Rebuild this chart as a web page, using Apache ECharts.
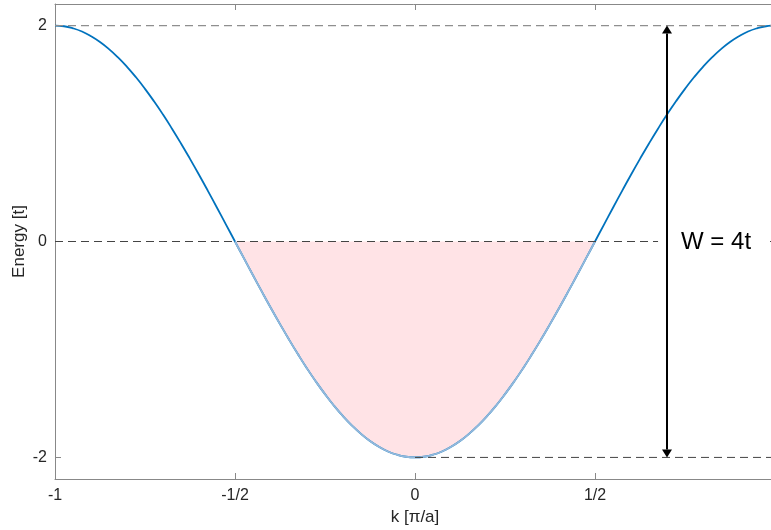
<!DOCTYPE html>
<html>
<head>
<meta charset="utf-8">
<title>Tight-binding band</title>
<script src="https://cdn.jsdelivr.net/npm/echarts@6/dist/echarts.min.js"></script>
<style>
  html, body { margin: 0; padding: 0; background: #fff; }
  #chart { width: 771px; height: 530px; }
</style>
</head>
<body>
<div id="chart"></div>
<script>
// Wave vector k in units of pi/a
const kValues = [
  -1.000, -0.975, -0.950, -0.925, -0.900, -0.875, -0.850, -0.825, -0.800, -0.775,
  -0.750, -0.725, -0.700, -0.675, -0.650, -0.625, -0.600, -0.575, -0.550, -0.525,
  -0.500, -0.475, -0.450, -0.425, -0.400, -0.375, -0.350, -0.325, -0.300, -0.275,
  -0.250, -0.225, -0.200, -0.175, -0.150, -0.125, -0.100, -0.075, -0.050, -0.025,
   0.000,  0.025,  0.050,  0.075,  0.100,  0.125,  0.150,  0.175,  0.200,  0.225,
   0.250,  0.275,  0.300,  0.325,  0.350,  0.375,  0.400,  0.425,  0.450,  0.475,
   0.500,  0.525,  0.550,  0.575,  0.600,  0.625,  0.650,  0.675,  0.700,  0.725,
   0.750,  0.775,  0.800,  0.825,  0.850,  0.875,  0.900,  0.925,  0.950,  0.975, 1.000
];
// Band energy in units of t
const energyValues = [
   2.000,  1.994,  1.975,  1.945,  1.902,  1.848,  1.782,  1.705,  1.618,  1.521,
   1.414,  1.299,  1.176,  1.045,  0.908,  0.765,  0.618,  0.467,  0.313,  0.157,
   0.000, -0.157, -0.313, -0.467, -0.618, -0.765, -0.908, -1.045, -1.176, -1.299,
  -1.414, -1.521, -1.618, -1.705, -1.782, -1.848, -1.902, -1.945, -1.975, -1.994,
  -2.000, -1.994, -1.975, -1.945, -1.902, -1.848, -1.782, -1.705, -1.618, -1.521,
  -1.414, -1.299, -1.176, -1.045, -0.908, -0.765, -0.618, -0.467, -0.313, -0.157,
   0.000,  0.157,  0.313,  0.467,  0.618,  0.765,  0.908,  1.045,  1.176,  1.299,
   1.414,  1.521,  1.618,  1.705,  1.782,  1.848,  1.902,  1.945,  1.975,  1.994, 2.000
];
// Occupied states (below the Fermi level)
const fermiRange = [-0.5, 0.5];

// Reference levels: [kStart, kEnd, energy]
const bandTopLine = [-1, 1, 2];
const fermiLine = [-1, 1, 0];
const bandBottomLine = [0, 1, -2];

// Bandwidth marker
const widthArrowK = 0.7;
const bandwidth = [-2, 2];
const widthLabel = 'W = 4t';
const widthLabelK = 0.739;

const xTickLabels = { '-1': '-1', '-0.5': '-1/2', '0': '0', '0.5': '1/2' };
const yTicks = [-2, 0, 2];

const curve = kValues.map((k, i) => [k, energyValues[i]]);
const filled = curve.filter(p => p[0] >= fermiRange[0] - 1e-9 && p[0] <= fermiRange[1] + 1e-9);
const levelSeries = (seg, color, width) => ({
  type: 'line',
  data: [[seg[0], seg[2]], [seg[1], seg[2]]],
  symbol: 'none',
  silent: true,
  lineStyle: { color: color, width: width, type: [8, 5] },
  z: 3
});

const font = 'Liberation Sans, Arial, Helvetica, sans-serif';
const axisGray = '#888';
const textDark = '#262626';

const chart = echarts.init(document.getElementById('chart'), null, { renderer: 'canvas' });
chart.setOption({
  animation: false,
  backgroundColor: '#fff',
  grid: { left: 55, width: 720, top: 4, height: 475, containLabel: false, outerBoundsMode: 'none' },
  xAxis: [{
    type: 'value', min: -1, max: 1, interval: 0.5,
    name: 'k [π/a]', nameLocation: 'middle', nameGap: 30, nameMoveOverlap: false,
    nameTextStyle: { fontFamily: font, fontSize: 17, color: textDark },
    axisLine: { show: true, onZero: false, lineStyle: { color: axisGray, width: 1 } },
    axisTick: { show: true, inside: true, length: 6, lineStyle: { color: axisGray } },
    axisLabel: {
      fontFamily: font, fontSize: 16, color: textDark, margin: 9,
      formatter: v => (xTickLabels[String(v)] !== undefined ? xTickLabels[String(v)] : '')
    },
    splitLine: { show: false }
  }, {
    type: 'value', min: -1, max: 1, interval: 0.5, position: 'top',
    axisLine: { show: true, onZero: false, lineStyle: { color: axisGray, width: 1 } },
    axisTick: { show: true, inside: true, length: 6, lineStyle: { color: axisGray } },
    axisLabel: { show: false },
    splitLine: { show: false }
  }],
  yAxis: [{
    type: 'value', min: -2.2, max: 2.2,
    name: 'Energy [t]', nameLocation: 'middle', nameGap: 27, nameMoveOverlap: false,
    nameTextStyle: { fontFamily: font, fontSize: 17, color: textDark },
    axisLine: { show: true, onZero: false, lineStyle: { color: axisGray, width: 1 } },
    axisTick: { show: true, inside: true, length: 6, customValues: yTicks, lineStyle: { color: axisGray } },
    axisLabel: { fontFamily: font, fontSize: 16, color: textDark, margin: 8, customValues: yTicks },
    splitLine: { show: false }
  }],
  series: [
    {
      // full band
      type: 'line', data: curve, smooth: true, symbol: 'none', silent: true,
      lineStyle: { color: '#0072BD', width: 1.8 }, z: 2
    },
    {
      // filled states up to the Fermi level
      type: 'line', data: filled, smooth: true, symbol: 'none', silent: true,
      lineStyle: { color: '#93b9dc', width: 1.8 },
      areaStyle: { color: '#ffe3e6', opacity: 1, origin: 0 }, z: 2
    },
    levelSeries(bandTopLine, '#8f8f8f', 1.4),
    levelSeries(fermiLine, '#444', 1),
    levelSeries(bandBottomLine, '#444', 1),
    {
      // bandwidth label box and double-headed arrow
      type: 'custom', silent: true, z: 6,
      data: [[widthArrowK, bandwidth[0], bandwidth[1], widthLabelK, 0]],
      renderItem: function (params, api) {
        const lo = api.coord([api.value(0), api.value(1)]);
        const hi = api.coord([api.value(0), api.value(2)]);
        const lab = api.coord([api.value(3), api.value(4)]);
        const x = lo[0];
        const head = 8, half = 5;
        return {
          type: 'group',
          children: [
            {
              type: 'rect',
              shape: { x: lab[0] - 23, y: lab[1] - 13, width: 108, height: 26 },
              style: { fill: '#fff' }
            },
            {
              type: 'text',
              style: {
                x: lab[0], y: lab[1] + 1, text: widthLabel,
                font: '24px ' + font, fill: '#000',
                textAlign: 'left', textVerticalAlign: 'middle'
              }
            },
            {
              type: 'line',
              shape: { x1: x, y1: hi[1] + head, x2: x, y2: lo[1] - head },
              style: { stroke: '#000', lineWidth: 2 }
            },
            {
              type: 'polygon',
              shape: { points: [[x, hi[1]], [x - half, hi[1] + head], [x + half, hi[1] + head]] },
              style: { fill: '#000' }
            },
            {
              type: 'polygon',
              shape: { points: [[x, lo[1]], [x - half, lo[1] - head], [x + half, lo[1] - head]] },
              style: { fill: '#000' }
            }
          ]
        };
      }
    }
  ]
});
</script>
</body>
</html>
